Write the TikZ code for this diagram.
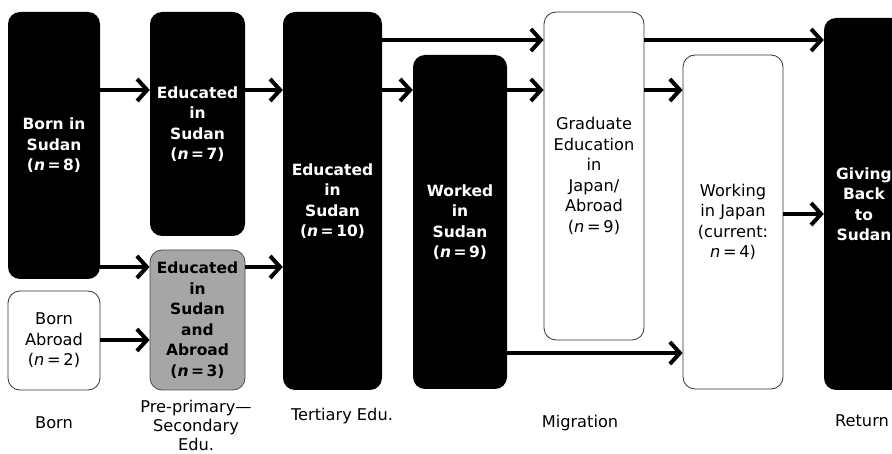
\documentclass[tikz,border=0pt]{standalone}
\usepackage{fontspec}
\setmainfont{DejaVu Sans}
\usetikzlibrary{arrows.meta}
\newcommand{\nval}[1]{(\textit{n}\,=\,#1)}
\begin{document}
\begin{tikzpicture}[x=1pt,y=-1pt,
    box/.style={rounded corners=12pt, inner sep=0pt, align=center, font=\fontsize{16.2}{20.5}\selectfont},
    blk/.style={box, fill=black, text=white, font=\fontsize{15.5}{20.5}\selectfont\bfseries},
    wht/.style={box, draw=black!80, line width=0.8pt, fill=white},
    gry/.style={blk, fill=black!35, text=black, draw=black!70, line width=0.8pt},
    flow/.style={line width=4pt, -{Straight Barb[length=10pt,width=22pt]}},
    stage/.style={align=center, font=\fontsize{16.2}{19}\selectfont}]
    \useasboundingbox (0,0) rectangle (892,454);
    \clip (0,0) rectangle (892,454);

    % born
    \node[blk, minimum width=92pt, minimum height=267pt] (bs) at (54,145.5) {Born in\\Sudan\\\nval{8}};
    \node[wht, minimum width=92pt, minimum height=99pt] (ba) at (54,340.5) {Born\\Abroad\\\nval{2}};
    % pre-primary -- secondary
    \node[blk, minimum width=95pt, minimum height=224pt] (e7) at (197.5,124) {Educated\\in\\Sudan\\\nval{7}};
    \node[gry, minimum width=95pt, minimum height=140pt] (esa) at (197.5,320) {Educated\\in\\Sudan\\and\\Abroad\\\nval{3}};
    % tertiary
    \node[blk, minimum width=99pt, minimum height=378pt] (ter) at (332.5,201) {Educated\\in\\Sudan\\\nval{10}};
    \node[blk, minimum width=94pt, minimum height=334pt] (wrk) at (460,222) {Worked\\in\\Sudan\\\nval{9}};
    % migration
    \node[wht, minimum width=100pt, minimum height=328pt] (grad) at (594,176) {Graduate\\Education\\in\\Japan/\\Abroad\\\nval{9}};
    \node[wht, minimum width=100pt, minimum height=334pt] (wj) at (733,222) {Working\\in Japan\\(current:\\\textit{n}\,=\,4)};
    % return
    \node[blk, minimum width=80pt, minimum height=372pt] (gb) at (864,204) {Giving\\Back\\to\\Sudan};

    \draw[flow] (bs.east |- 0,90) -- (e7.west |- 0,90);
    \draw[flow] (bs.east |- 0,267) -- (esa.west |- 0,267);
    \draw[flow] (ba.east |- 0,340) -- (esa.west |- 0,340);
    \draw[flow] (e7.east |- 0,90) -- (ter.west |- 0,90);
    \draw[flow] (esa.east |- 0,267) -- (ter.west |- 0,267);
    \draw[flow] (ter.east |- 0,40) -- (grad.west |- 0,40);
    \draw[flow] (ter.east |- 0,90) -- (wrk.west |- 0,90);
    \draw[flow] (wrk.east |- 0,90) -- (grad.west |- 0,90);
    \draw[flow] (wrk.east |- 0,353) -- (wj.west |- 0,353);
    \draw[flow] (grad.east |- 0,40) -- (gb.west |- 0,40);
    \draw[flow] (grad.east |- 0,90) -- (wj.west |- 0,90);
    \draw[flow] (wj.east |- 0,214) -- (gb.west |- 0,214);

    % stage labels
    \node[stage] (lborn) at (54,423) {Born};
    \node[stage] (lsec) at (196,425) {Pre-primary—\\Secondary\\Edu.};
    \node[stage] (lter) at (342,416) {Tertiary Edu.};
    \node[stage] (lmig) at (580,423) {Migration};
    \node[stage] (lret) at (862,421) {Return};
\end{tikzpicture}
\end{document}
